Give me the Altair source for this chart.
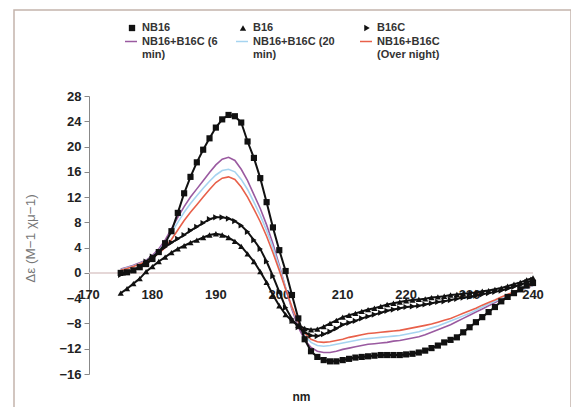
import altair as alt
import pandas as pd

# ---------------- data ----------------
wavelengths = [175, 176, 177, 178, 179, 180, 181, 182, 183, 184, 185, 186, 187, 188, 189,
               190, 191, 192, 193, 194, 195, 196, 197, 198, 199, 200, 201, 202, 203, 204,
               205, 206, 207, 208, 209, 210, 211, 212, 213, 214, 215, 216, 217, 218, 219,
               220, 221, 222, 223, 224, 225, 226, 227, 228, 229, 230, 231, 232, 233, 234,
               235, 236, 237, 238, 239, 240]

nb16 = [0.0, 0.1, 0.4, 0.9, 1.4, 2.2, 3.3, 4.7, 6.6, 9.5, 12.6, 15.2, 17.5, 19.5, 21.3,
        23.0, 24.3, 25.0, 24.8, 23.8, 20.8, 18.2, 15.0, 11.2, 7.2, 3.6, 0.3, -3.5, -7.2, -10.5,
        -12.4, -13.3, -13.8, -14.0, -14.0, -13.8, -13.6, -13.4, -13.3, -13.2, -13.1, -13.0, -13.0, -13.0, -13.0,
        -12.9, -12.8, -12.6, -12.3, -11.9, -11.5, -11.0, -10.6, -10.2, -9.4, -8.6, -7.8, -7.0, -6.2, -5.4,
        -4.5, -3.8, -3.2, -2.6, -2.0, -1.6]

b16 = [-3.2, -2.5, -1.7, -0.9, 0.2, 1.0, 1.8, 2.5, 3.2, 3.8, 4.3, 4.8, 5.2, 5.6, 6.0,
       6.2, 6.0, 5.6, 5.0, 4.2, 3.0, 1.8, 0.2, -1.5, -3.5, -5.2, -6.6, -7.6, -8.3, -8.8,
       -9.0, -8.9, -8.5, -8.0, -7.5, -7.0, -6.7, -6.4, -6.1, -5.8, -5.6, -5.3, -5.0, -4.8, -4.6,
       -4.4, -4.3, -4.2, -4.1, -3.9, -3.8, -3.7, -3.5, -3.4, -3.3, -3.2, -3.1, -2.9, -2.8, -2.6,
       -2.4, -2.1, -1.8, -1.5, -1.1, -0.8]

b16c = [-0.3, 0.0, 0.4, 1.0, 1.8, 2.6, 3.3, 4.1, 4.8, 5.4, 6.0, 6.7, 7.3, 7.9, 8.5,
        8.8, 8.8, 8.6, 8.2, 7.5, 6.5, 5.2, 3.8, 1.8, -0.5, -3.0, -5.5, -7.3, -8.6, -9.4,
        -9.9, -10.0, -9.7, -9.3, -8.8, -8.2, -7.9, -7.6, -7.2, -6.9, -6.6, -6.3, -6.0, -5.8, -5.6,
        -5.4, -5.3, -5.2, -5.0, -4.8, -4.6, -4.5, -4.3, -4.1, -3.9, -3.8, -3.6, -3.4, -3.2, -3.0,
        -2.8, -2.5, -2.2, -1.9, -1.5, -1.1]

mix_6min = [0.6, 0.9, 1.2, 1.6, 2.0, 2.8, 3.8, 5.2, 7.0, 8.8, 10.5, 12.0, 13.3, 14.6, 15.9,
            17.1, 18.0, 18.3, 17.8, 16.4, 14.6, 12.4, 10.2, 7.6, 4.6, 1.2, -2.4, -5.8, -8.6, -10.6,
            -11.8, -12.4, -12.6, -12.6, -12.4, -12.1, -11.9, -11.7, -11.5, -11.3, -11.2, -11.1, -11.0, -10.8, -10.7,
            -10.5, -10.3, -10.1, -9.8, -9.4, -9.0, -8.6, -8.2, -7.7, -7.2, -6.7, -6.2, -5.7, -5.2, -4.7,
            -4.2, -3.7, -3.2, -2.8, -2.4, -2.0]

mix_20min = [0.5, 0.8, 1.1, 1.5, 1.9, 2.6, 3.5, 4.8, 6.4, 8.0, 9.6, 11.0, 12.2, 13.4, 14.5,
             15.5, 16.2, 16.4, 16.0, 14.8, 13.2, 11.2, 9.1, 6.7, 4.0, 0.9, -2.4, -5.5, -8.0, -9.9,
             -11.0, -11.5, -11.6, -11.5, -11.3, -11.1, -10.9, -10.7, -10.5, -10.4, -10.3, -10.2, -10.1, -10.0, -9.9,
             -9.7, -9.5, -9.3, -9.0, -8.7, -8.4, -8.0, -7.6, -7.2, -6.8, -6.4, -5.9, -5.4, -4.9, -4.5,
             -4.0, -3.6, -3.2, -2.8, -2.4, -2.0]

mix_overnight = [0.4, 0.7, 1.0, 1.4, 1.8, 2.4, 3.1, 4.0, 5.3, 6.8, 8.3, 9.6, 10.8, 12.0, 13.2,
                 14.3, 15.0, 15.2, 14.8, 13.6, 12.0, 10.1, 8.1, 5.8, 3.2, 0.4, -2.6, -5.4, -7.8, -9.5,
                 -10.5, -10.9, -11.0, -10.9, -10.7, -10.5, -10.2, -10.0, -9.8, -9.6, -9.5, -9.4, -9.3, -9.2, -9.1,
                 -8.9, -8.7, -8.5, -8.3, -8.1, -7.8, -7.5, -7.2, -6.8, -6.4, -6.0, -5.6, -5.1, -4.7, -4.3,
                 -3.8, -3.4, -3.0, -2.6, -2.2, -1.9]

series_names = ["NB16", "B16", "B16C",
                "NB16+B16C (6 min)", "NB16+B16C (20 min)", "NB16+B16C (Over night)"]
legend_labels = ["NB16", "B16", "B16C",
                 "NB16+B16C (6\nmin)", "NB16+B16C (20\nmin)", "NB16+B16C\n(Over night)"]
series_colors = ["#111111", "#111111", "#111111", "#9a5aa0", "#a6d4f0", "#e8604a"]
series_shapes = ["square", "triangle-up", "triangle-right", "stroke", "stroke", "stroke"]

y_ticks = [28, 24, 20, 16, 12, 8, 4, 0, -4, -8, -12, -16]
x_ticks = [170, 180, 190, 200, 210, 220, 230, 240]

# ---------------- tables ----------------
rows = []
for name, vals in zip(series_names, [nb16, b16, b16c, mix_6min, mix_20min, mix_overnight]):
    for w, v in zip(wavelengths, vals):
        rows.append({"series": name, "nm": w, "value": v})
df = pd.DataFrame(rows)

legend_df = pd.DataFrame({
    "series": series_names,
    "label": legend_labels,
    "color": series_colors,
    "shape": series_shapes,
    "i": list(range(len(series_names))),
})

FONT = "Liberation Sans"
W, H = 444, 278

x_scale = alt.Scale(domain=[170, 240], nice=False, zero=False)
y_scale = alt.Scale(domain=[-16, 28], nice=False, zero=False)
color_scale = alt.Scale(domain=series_names, range=series_colors)

x_axis = alt.Axis(title="nm", labels=False, ticks=False, domain=False, grid=False,
                  titlePadding=17, titleFont=FONT, titleFontSize=12, titleFontWeight="bold",
                  titleColor="#222222", titleX=212)
y_axis = alt.Axis(values=y_ticks, grid=False, title="Δε (M−1 χμ−1)",
                  labelFont=FONT, labelFontSize=13, labelFontWeight="bold", labelColor="#222222",
                  labelPadding=3, tickSize=5, tickColor="#888888", domainColor="#888888",
                  titleFont=FONT, titleFontSize=13.5, titleFontWeight="normal", titleColor="#777777",
                  titleX=-59, titleY=142, titleAngle=270, titleAlign="center", titleBaseline="middle")


def X(field):
    return alt.X(field, scale=x_scale, axis=x_axis, title="nm")


def Y(field):
    return alt.Y(field, scale=y_scale, axis=y_axis, title="Δε (M−1 χμ−1)")


# outer frame of the figure
frame = alt.Chart(alt.Data(values=[{}])).mark_rect(
    fillOpacity=0, stroke="#c4b4ac", strokeWidth=1.5
).encode(x=alt.value(-75), x2=alt.value(482), y=alt.value(-86), y2=alt.value(340))

# zero line (the x axis of the original crosses at 0)
zero_df = pd.DataFrame({"nm": [170], "nm2": [240], "value": [0]})
zero_rule = alt.Chart(zero_df).mark_rule(color="#dccaca", strokeWidth=1.5).encode(
    x=X("nm:Q"), x2="nm2:Q", y=Y("value:Q")
)

tick_df = pd.DataFrame({"nm": x_ticks, "value": [0] * len(x_ticks)})
tick_text = alt.Chart(tick_df).mark_text(
    dy=22, font=FONT, fontSize=13, fontWeight="bold", color="#222222"
).encode(x=X("nm:Q"), y=Y("value:Q"), text=alt.Text("nm:Q", format="d"))

base = alt.Chart(df)

colored = base.transform_filter(
    alt.FieldOneOfPredicate(field="series", oneOf=series_names[3:])
).mark_line(strokeWidth=1.6).encode(
    x=X("nm:Q"), y=Y("value:Q"),
    color=alt.Color("series:N", scale=color_scale, legend=None),
)

black_lines = base.transform_filter(
    alt.FieldOneOfPredicate(field="series", oneOf=series_names[:3])
).mark_line(strokeWidth=2).encode(
    x=X("nm:Q"), y=Y("value:Q"),
    color=alt.Color("series:N", scale=color_scale, legend=None),
)

points = base.transform_filter(
    alt.FieldOneOfPredicate(field="series", oneOf=series_names[:3])
).mark_point(filled=True, size=38, opacity=1).encode(
    x=X("nm:Q"), y=Y("value:Q"),
    color=alt.Color("series:N", scale=color_scale, legend=None),
    shape=alt.Shape("series:N", scale=alt.Scale(domain=series_names[:3], range=series_shapes[:3]),
                    legend=None),
)

# ---------------- hand-made legend above the plot ----------------
leg = alt.Chart(legend_df).transform_calculate(
    col="datum.i % 3",
    row="floor(datum.i / 3)",
).transform_calculate(
    sx="[43, 154, 278][datum.col]",
    ly="datum.row == 0 ? -68 : -54.5",
)

leg_points = leg.transform_filter("datum.row == 0").mark_point(
    filled=True, size=40, opacity=1
).encode(
    x=alt.X("sx:Q", scale=None), y=alt.Y("ly:Q", scale=None),
    color=alt.Color("color:N", scale=None), shape=alt.Shape("shape:N", scale=None),
)

leg_lines = leg.transform_filter("datum.row == 1").transform_calculate(
    x1="datum.sx - 7", x2="datum.sx + 5"
).mark_rule(strokeWidth=1.5).encode(
    x=alt.X("x1:Q", scale=None), x2="x2:Q", y=alt.Y("ly:Q", scale=None),
    color=alt.Color("color:N", scale=None),
)

leg_text = leg.transform_calculate(
    tx="datum.sx + 10", ty="datum.ly - 6"
).mark_text(
    align="left", baseline="top", lineBreak="\n", lineHeight=13.5,
    font=FONT, fontSize=11, fontWeight="bold", color="#333333"
).encode(
    x=alt.X("tx:Q", scale=None), y=alt.Y("ty:Q", scale=None), text="label:N",
)

chart = alt.layer(
    frame, zero_rule, tick_text, colored, black_lines, points, leg_points, leg_lines, leg_text
).properties(
    width=W, height=H,
    padding={"left": 81, "top": 88, "right": 38, "bottom": 33},
    autosize=alt.AutoSizeParams(type="none"),
).configure_view(stroke=None)

chart.save("out.html", embed_options={"renderer": "svg", "actions": False})
